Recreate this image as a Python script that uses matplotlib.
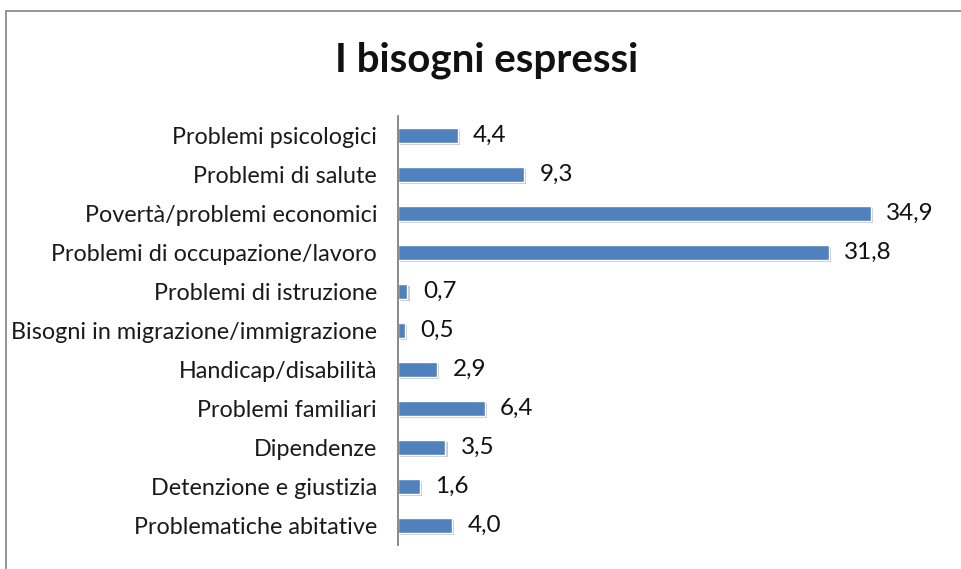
import matplotlib
matplotlib.use("Agg")
import matplotlib.pyplot as plt
import matplotlib.patheffects as pe
from matplotlib.patches import Rectangle

categories = [
    "Problemi psicologici",
    "Problemi di salute",
    "Povertà/problemi economici",
    "Problemi di occupazione/lavoro",
    "Problemi di istruzione",
    "Bisogni in migrazione/immigrazione",
    "Handicap/disabilità",
    "Problemi familiari",
    "Dipendenze",
    "Detenzione e giustizia",
    "Problematiche abitative",
]
values = [4.4, 9.3, 34.9, 31.8, 0.7, 0.5, 2.9, 6.4, 3.5, 1.6, 4.0]
title = "I bisogni espressi"

plt.rcParams['font.family'] = ['Lato', 'DejaVu Sans']

W, H = 961, 569
fig = plt.figure(figsize=(W / 100, H / 100), dpi=100)
fig.patch.set_facecolor("white")

# outer chart border (top and left visible, others cropped)
fig.patches.append(Rectangle((5.5 / W, -0.1), 1.2, 1 - 11.5 / H + 0.1,
                             transform=fig.transFigure, fill=False,
                             edgecolor="#8c8c8c", linewidth=1.3))

ax = fig.add_axes([398 / W, 24 / H, 542 / W, (453 - 24) / H])
ypos = list(range(len(categories)))
bars = ax.barh(ypos, values, height=0.37, color="#4F81BD",
               edgecolor="white", linewidth=1.0)
for b in bars:
    b.set_path_effects([pe.SimplePatchShadow(offset=(1.5, -1.5),
                                             shadow_rgbFace="#888888", alpha=0.45),
                        pe.Normal()])

ax.set_xlim(0, 40)
ax.set_ylim(len(categories) - 0.5, -0.5)
ax.set_yticks(ypos)
ax.set_yticklabels(categories, fontsize=16.8, color="#1a1a1a")
ax.tick_params(axis="y", length=0, pad=15)
ax.set_xticks([])
for s in ["top", "right", "bottom"]:
    ax.spines[s].set_visible(False)
ax.spines["left"].set_color("#808080")
ax.spines["left"].set_linewidth(1.3)

for y, v in zip(ypos, values):
    ax.annotate(f"{v:.1f}".replace(".", ","), xy=(v, y), xytext=(11, 0),
                textcoords="offset points", va="center", ha="left",
                fontsize=17.5, color="#111111")

fig.text(487 / W, 1 - 60 / H, title, ha="center", va="center",
         fontsize=29, fontweight="bold", color="#111111")

fig.savefig("out.png", dpi=100, facecolor="white")
